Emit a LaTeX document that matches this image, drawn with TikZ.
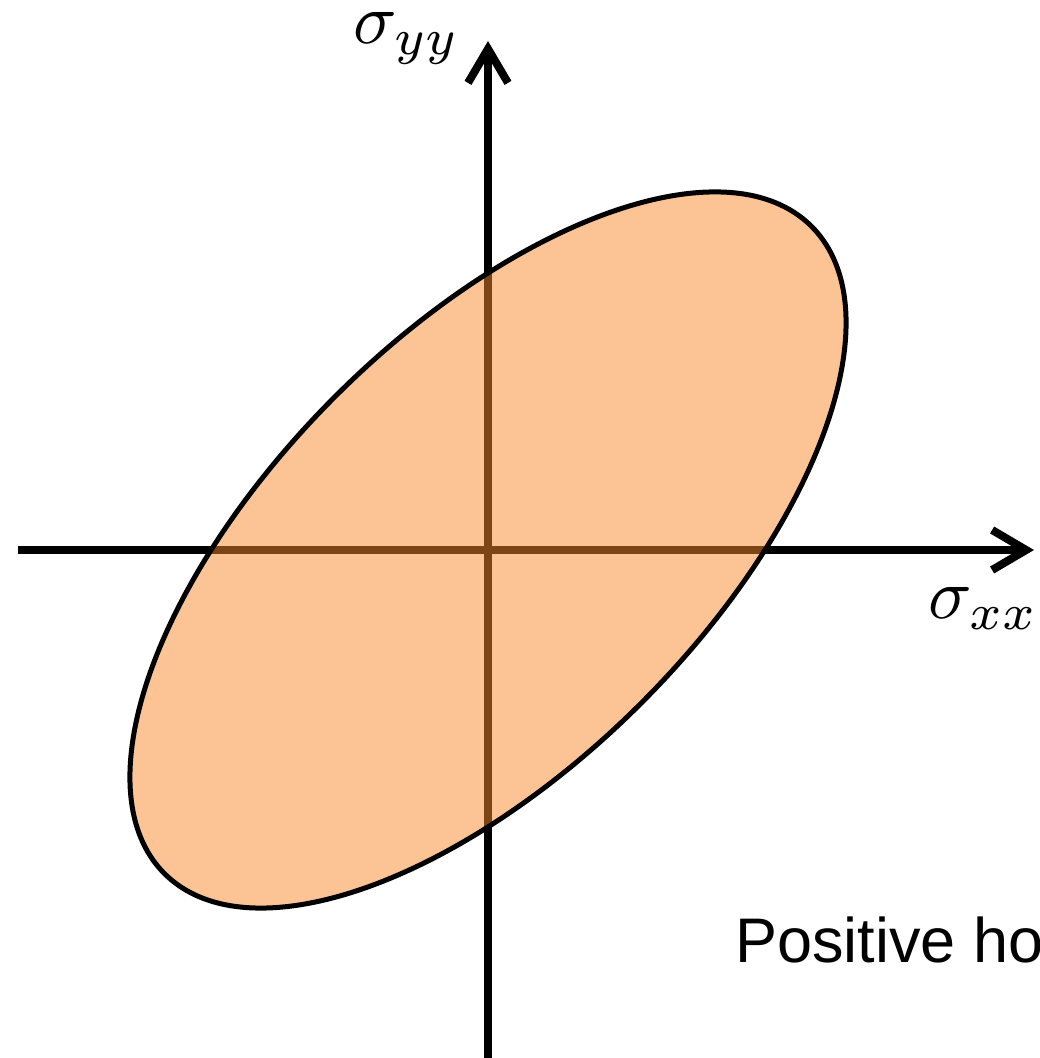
\documentclass[tikz,border=0pt]{standalone}
\usepackage{fontspec}
\newfontfamily\labelsans{Liberation Sans}
\usetikzlibrary{arrows.meta}
\definecolor{stressfill}{RGB}{250,138,42}
\begin{document}
\begin{tikzpicture}[x=1pt,y=1pt,
  axis/.style={line width=8pt,-{Straight Barb[length=34pt,width=40pt,line width=8pt]}},
  mathlabel/.style={font=\fontsize{10}{12}\selectfont,scale=7.2,inner sep=0pt,anchor=base west},
  note/.style={font=\labelsans\fontsize{63}{70}\selectfont,inner sep=0pt,anchor=base west}]
\useasboundingbox (0,0) rectangle (1040,1058);
\clip (0,0) rectangle (1040,1058);
\coordinate (O) at (488,508);
\coordinate (xl) at (18,508);
\coordinate (xr) at (1034,508);
\coordinate (yb) at (488,-10);
\coordinate (yt) at (488,1017);
\draw[axis] (xl) -- (xr);
\draw[axis] (yb) -- (yt);
% failure envelope
\draw[line width=5pt,fill=stressfill,fill opacity=0.5,shift={(O)},rotate=45]
  (0,0) ellipse [x radius=457.6,y radius=216.6];
\node[mathlabel] (syy) at (352,1014) {$\sigma_{yy}$};
\node[mathlabel] (sxx) at (927,439) {$\sigma_{xx}$};
\node[note] (pos) at (735,95) {Positive ho};
\end{tikzpicture}
\end{document}
